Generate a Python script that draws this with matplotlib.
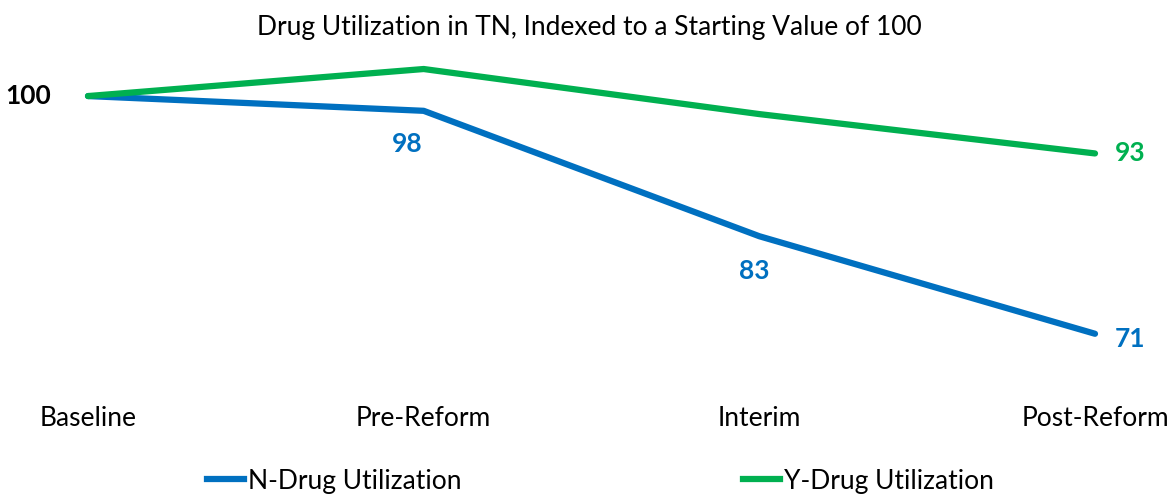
import matplotlib
matplotlib.use("Agg")
import matplotlib.pyplot as plt
from matplotlib.lines import Line2D
from matplotlib.transforms import blended_transform_factory

plt.rcParams['font.family'] = ['Lato', 'DejaVu Sans']

categories = ["Baseline", "Pre-Reform", "Interim", "Post-Reform"]
n_drug = [100, 98.2, 82.9, 71]
y_drug = [100, 103.3, 97.8, 93]

BLUE = "#0070C0"
GREEN = "#00B050"
FS = 19

fig = plt.figure(figsize=(11.75, 4.95), dpi=100)
W, H = 1175, 495
# axes from x=88..1095 px, y=60..360 px
ax = fig.add_axes([88 / W, 1 - 360 / H, (1095 - 88) / W, 300 / H])
x = list(range(len(categories)))
ax.plot(x, n_drug, color=BLUE, lw=4.5, solid_capstyle="round", solid_joinstyle="round", clip_on=False)
ax.plot(x, y_drug, color=GREEN, lw=4.5, solid_capstyle="round", solid_joinstyle="round", clip_on=False)
ax.set_xlim(0, 3)
ax.set_ylim(67.8, 104.4)
ax.axis("off")

# category labels
tr = blended_transform_factory(ax.transData, fig.transFigure)
for i, c in enumerate(categories):
    ax.text(i, 1 - 419 / H, c, transform=tr, ha="center", va="center", fontsize=FS, color="#000000")

# data labels
ax.text(-0.11, n_drug[0], "100", ha="right", va="center", fontsize=FS, fontweight="bold", color="black")
ax.text(0.95, n_drug[1] - 4.0, "98", ha="center", va="center", fontsize=FS, fontweight="bold", color=BLUE)
ax.text(1.985, n_drug[2] - 4.2, "83", ha="center", va="center", fontsize=FS, fontweight="bold", color=BLUE)
ax.text(3.06, n_drug[3] - 0.6, "71", ha="left", va="center", fontsize=FS, fontweight="bold", color=BLUE)
ax.text(3.06, y_drug[3], "93", ha="left", va="center", fontsize=FS, fontweight="bold", color=GREEN)

fig.text(0.502, 1 - 27 / H, "Drug Utilization in TN, Indexed to a Starting Value of 100",
         ha="center", va="center", fontsize=FS)

handles = [Line2D([], [], color=BLUE, lw=4.5), Line2D([], [], color=GREEN, lw=4.5)]
fig.legend(handles, ["N-Drug Utilization", "Y-Drug Utilization"], loc="center",
           bbox_to_anchor=(0.511, 1 - 481 / H), ncol=2, frameon=False, fontsize=FS,
           handlelength=1.4, handletextpad=0.15, columnspacing=10.7)

fig.savefig("out.png", dpi=100)
